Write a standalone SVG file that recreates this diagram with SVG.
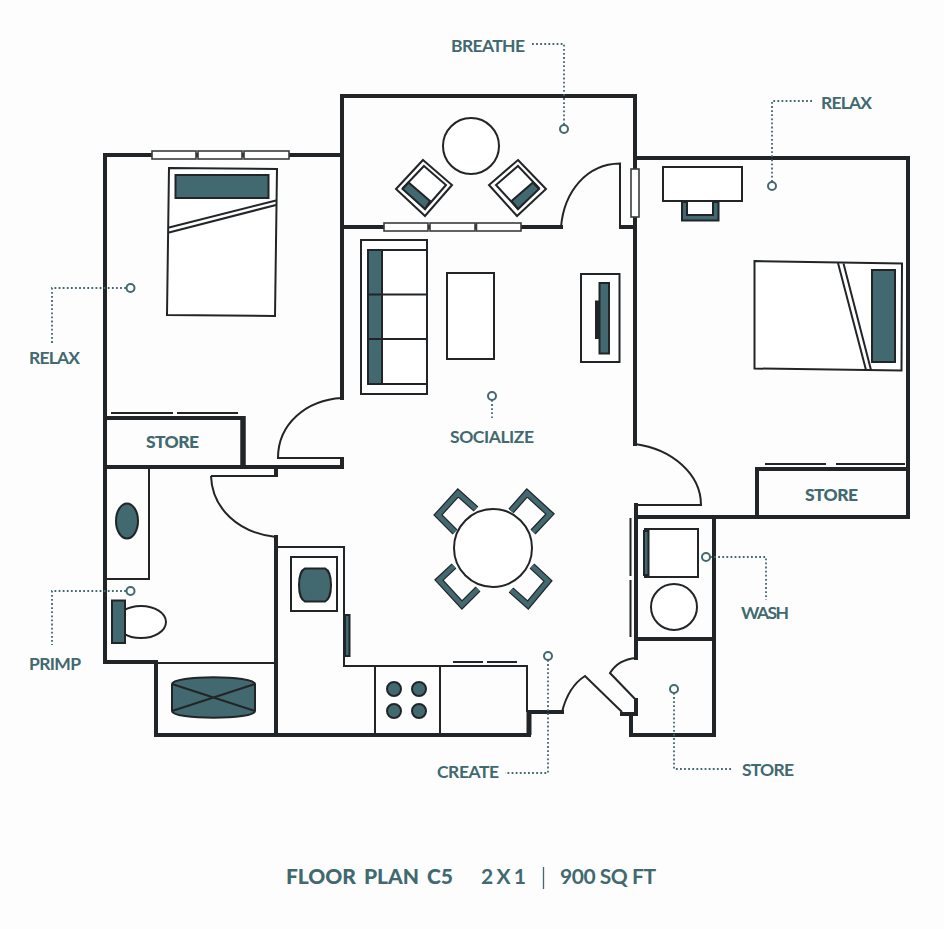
<svg xmlns="http://www.w3.org/2000/svg" width="944" height="929" viewBox="0 0 944 929">
<style>
.w{fill:none;stroke:#222527;stroke-width:4;stroke-linecap:square;stroke-linejoin:miter}
.t{fill:none;stroke:#222527;stroke-width:2}
.f{fill:#fff;stroke:#222527;stroke-width:2}
.k{fill:#41696f;stroke:#222527;stroke-width:2}
.win{fill:#fff;stroke:#3a3c3d;stroke-width:1.6}
.lead{fill:none;stroke:#41696f;stroke-width:1.8;stroke-dasharray:1.8 2.3}
.m{fill:#fff;stroke:#41696f;stroke-width:2}
.u1{fill:none;stroke:#222527;stroke-width:7;stroke-linejoin:miter}
.u2{fill:none;stroke:#41696f;stroke-width:4.600;stroke-linejoin:miter}
text{font-family:Lato,"Noto Sans","Liberation Sans",sans-serif;fill:#41696f;font-size:17.500px;font-weight:700}
.b{font-weight:900}
</style>
<rect width="944" height="929" fill="#fdfdfd"/>
<g id="walls">
<path class="w" d="M342 227V96H635V227H621M561 227H342V398M342 155H105V662H156V735H529V712H562"/>
<path class="w" d="M635 158H908V517H757V469H905M757 517H636"/>
<path class="w" d="M635 227V444M636 505V658M636 700V714H622M631 714V735H714V518M636 639H714"/>
<path class="w" d="M105 418H243V467M105 467H342V459M276 467V475M276 537V735"/>
<path class="t" d="M156 663H276"/>
<path d="M243 416V468" stroke="#222527" stroke-width="5.500" fill="none"/>
<path d="M529 712V735" stroke="#222527" stroke-width="5" fill="none"/>
</g>
<g id="doors">
<path class="t" d="M561 227C564 192 586 164 620 163.500V227"/>
<path class="t" d="M342 398C306 400 278 424 278 458H340"/>
<path class="t" d="M211 476H276M211 476C212 508 238 533 276 537"/>
<path class="t" d="M635 444C672 449 701 474 701 505H636"/>
<path class="t" d="M636 658C624 659 615 665 610 673L636 700"/>
<path class="t" d="M562 712C566 696 574 683 585 676L622 712"/>
</g>
<g id="windows">
<rect class="win" x="152" y="151" width="44" height="8"/><rect class="win" x="198" y="151" width="44" height="8"/><rect class="win" x="244" y="151" width="45" height="8"/>
<rect class="win" x="384" y="223" width="44" height="8"/><rect class="win" x="430" y="223" width="45" height="8"/><rect class="win" x="476.500" y="223" width="44.500" height="8"/>
<rect class="win" x="631" y="169" width="8" height="48"/>
<path class="t" d="M111 413H173M177 413H238M765 464H826M836 464H905M453 662H483M487 662H517M630.500 518V576M630.500 580V637"/>
</g>
<g id="bedroom-left">
<path class="f" d="M169 168L277 169L275 316L167 315Z"/>
<rect class="k" x="175.500" y="175" width="93" height="23"/>
<path class="t" d="M169 227.500L276 200.500M169 232.500L276 205"/>
</g>
<g id="terrace">
<circle class="f" cx="471" cy="146" r="28"/>
<path class="f" d="M423 160L452 185L425 216L396 189Z"/>
<path class="f" d="M424 166L446 185L425 209L403 188Z"/>
<path class="k" d="M402.500 189L408.500 182.500L430 201L425 209Z"/>
<path class="f" d="M518 160L546 189L517 216L489 185Z"/>
<path class="f" d="M518 166L539 188L518 209L496 185Z"/>
<path class="k" d="M511.500 201L533 182.500L539 189L518 209Z"/>
</g>
<g id="bedroom-right">
<rect class="f" x="663" y="167" width="79" height="34"/>
<path class="k" d="M682 202H687V215H713V202H718.500V220.500H682Z"/>
<path class="f" d="M754.500 261L902 263.500L901.500 370.500L754.500 368.500Z"/>
<path class="t" d="M838 263L866 370M843.500 263.500L871 370"/>
<rect class="k" x="872" y="270" width="23" height="92"/>
</g>
<g id="living">
<rect class="f" x="361" y="240" width="66" height="154"/>
<rect class="f" x="368" y="250" width="59" height="134"/>
<rect class="k" x="368" y="250" width="14" height="134"/>
<path class="t" d="M368 294.500H427M368 339H427"/>
<rect class="f" x="447" y="273" width="47" height="86"/>
<rect class="f" x="581" y="274" width="38.500" height="88"/>
<rect class="k" x="599.500" y="283" width="9.500" height="70.500"/>
<rect x="595" y="300.500" width="4.500" height="38.500" fill="#222527"/>
</g>
<g id="dining">
<path class="u1" d="M476 509L458 493L438 515L455 532M511 511L527 493L550 514L533 532M454 566L439 580L462 605L478 589M532 566L548 581L528 605L511 590"/>
<path class="u2" d="M476 509L458 493L438 515L455 532M511 511L527 493L550 514L533 532M454 566L439 580L462 605L478 589M532 566L548 581L528 605L511 590"/>
<circle class="f" cx="493" cy="548" r="39"/>
</g>
<g id="bath">
<path class="t" d="M105 579H149V467"/>
<ellipse class="k" cx="127" cy="521" rx="11" ry="17.500"/>
<ellipse class="f" cx="141" cy="622" rx="25" ry="16"/>
<rect class="k" x="112" y="600.500" width="13" height="42.500"/>
<path class="k" d="M172 684C172 675 255 675 255 684V711C255 720 172 720 172 711Z"/>
<path class="t" d="M172 684L255 711M172 711L255 684"/>
</g>
<g id="kitchen">
<path class="t" d="M276 547H344V666H527V712"/>
<rect class="f" x="291" y="557" width="46" height="54"/>
<path class="k" d="M305 568.500H325C333 572 333 598 325 601.500H305C297 598 297 572 305 568.500Z"/>
<rect class="k" x="345" y="615" width="4.500" height="41"/>
<path class="t" d="M375 666V735M440 666V735"/>
<circle class="k" cx="394" cy="689" r="7"/><circle class="k" cx="419" cy="689" r="7"/><circle class="k" cx="394" cy="711" r="7"/><circle class="k" cx="419" cy="711" r="7"/>
</g>
<g id="laundry">
<rect class="f" x="645" y="529" width="53" height="48"/>
<rect class="k" x="644" y="531" width="4.500" height="44"/>
<circle class="f" cx="674" cy="607" r="23"/>
</g>
<g id="connectors">
<path class="lead" d="M532 44H564V125"/>
<path class="lead" d="M812 101H772V182"/>
<path class="lead" d="M126 288H52V345"/>
<path class="lead" d="M492 400V418"/>
<path class="lead" d="M126 591H52V645"/>
<path class="lead" d="M710 557H766V600"/>
<path class="lead" d="M548 660V773H505"/>
<path class="lead" d="M674 693V769H731"/>
</g>
<g id="markers">
<circle class="m" cx="564" cy="129" r="4"/><circle class="m" cx="772" cy="186" r="4"/><circle class="m" cx="130.500" cy="288" r="4"/><circle class="m" cx="492" cy="396" r="4"/><circle class="m" cx="130.500" cy="591" r="4"/><circle class="m" cx="706" cy="557" r="4"/><circle class="m" cx="548" cy="656" r="4"/><circle class="m" cx="674" cy="689" r="4"/>
</g>
<g id="labels">
<text x="451" y="52" textLength="74">BREATHE</text>
<text x="821" y="108.500" textLength="51">RELAX</text>
<text x="29" y="363.500" textLength="51">RELAX</text>
<text x="450" y="442.500" textLength="84">SOCIALIZE</text>
<text x="29" y="669.500" textLength="52">PRIMP</text>
<text x="741" y="618.500" textLength="48">WASH</text>
<text x="437" y="777.500" textLength="62">CREATE</text>
<text x="742" y="775.500" textLength="52">STORE</text>
<text class="b" x="146" y="448" textLength="53">STORE</text>
<text class="b" x="805" y="500.500" textLength="53">STORE</text>
<text class="b" x="286" y="884" style="font-size:21px;word-spacing:3px" textLength="167">FLOOR PLAN C5</text>
<text x="481" y="884" style="font-size:21px" textLength="45">2 X 1</text>
<text x="560" y="884" style="font-size:21px" textLength="96">900 SQ FT</text>
<path d="M543.500 867V889" stroke="#41696f" stroke-width="1.300" fill="none"/>
</g>
</svg>
